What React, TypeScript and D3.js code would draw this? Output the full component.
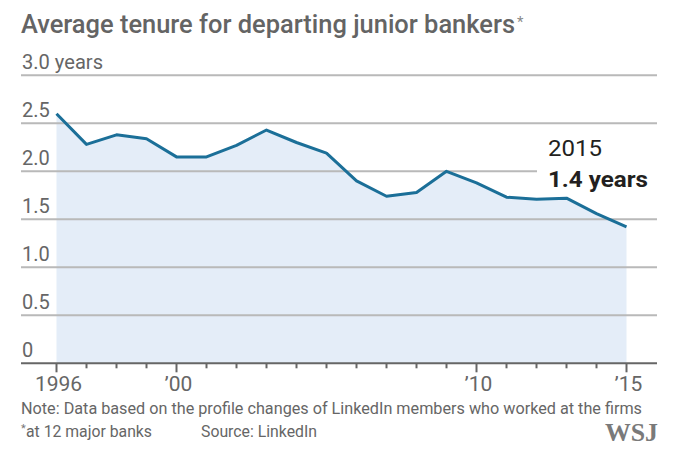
import React from "react";
import * as d3 from "d3";

const years: number[] = [1996, 1997, 1998, 1999, 2000, 2001, 2002, 2003, 2004, 2005, 2006, 2007, 2008, 2009, 2010, 2011, 2012, 2013, 2014, 2015];
const tenure: number[] = [2.60, 2.28, 2.38, 2.34, 2.15, 2.15, 2.27, 2.43, 2.30, 2.19, 1.90, 1.74, 1.78, 2.00, 1.88, 1.73, 1.71, 1.72, 1.56, 1.42];
const yTicks: number[] = [0, 0.5, 1.0, 1.5, 2.0, 2.5, 3.0];
const yTickLabels: string[] = ["0", "0.5", "1.0", "1.5", "2.0", "2.5", "3.0 years"];
const xLabelYears: number[] = [1996, 2000, 2010, 2015];
const xLabels: string[] = ["1996", "\u201900", "\u201910", "\u201915"];

const FONT = "Roboto, 'Open Sans', sans-serif";

export default function App() {
  const W = 682, H = 457;
  const x = d3.scaleLinear().domain([1996, 2015]).range([56.5, 626.5]);
  const y = d3.scaleLinear().domain([0, 3]).range([363.3, 75.3]);
  const gridLeft = 21, gridRight = 657;

  const data = years.map((yr, i) => ({ yr, v: tenure[i] }));
  const line = d3.line<{ yr: number; v: number }>().x(d => x(d.yr)).y(d => y(d.v));
  const area = d3.area<{ yr: number; v: number }>().x(d => x(d.yr)).y0(y(0)).y1(d => y(d.v));

  const allTicks = d3.range(1996, 2016);

  return (
    <div style={{ position: "fixed", left: 0, top: 0 }}>
      <svg width={W} height={H} style={{ display: "block", background: "#fff" }} fontFamily={FONT}>
        <rect x={0} y={0} width={W} height={H} fill="#fff" />
        {/* title */}
        <text x={21} y={33} fontSize={25} fontWeight={500} fill="#646464" textLength={494} lengthAdjust="spacingAndGlyphs">
          Average tenure for departing junior bankers
        </text>
        <text x={517} y={27} fontSize={15} fill="#8a8a8a">*</text>

        {/* area */}
        <path d={area(data) || ""} fill="#e4edf8" />

        {/* gridlines */}
        {yTicks.filter(t => t > 0).map(t => (
          <line key={t} x1={gridLeft} x2={gridRight} y1={y(t)} y2={y(t)} stroke="#b9b9b9" strokeWidth={2} />
        ))}

        {/* y labels */}
        {yTicks.map((t, i) => (
          <text key={t} x={22} y={y(t) - 6} fontSize={20} fill="#666"
            {...(i === yTicks.length - 1 ? { textLength: 81, lengthAdjust: "spacingAndGlyphs" } : {})}>
            {yTickLabels[i]}
          </text>
        ))}

        {/* annotation background */}
        <rect x={537} y={132} width={122} height={58} fill="#fff" />

        {/* line */}
        <path d={line(data) || ""} fill="none" stroke="#1b6f98" strokeWidth={3} strokeLinejoin="round" />

        {/* annotation */}
        <text x={548} y={156} fontSize={22} fill="#231f20" textLength={54} lengthAdjust="spacingAndGlyphs">2015</text>
        <text x={548} y={187} fontSize={22} fontWeight={700} fill="#231f20" textLength={100} lengthAdjust="spacingAndGlyphs">1.4 years</text>

        {/* x axis */}
        <line x1={gridLeft} x2={gridRight} y1={y(0)} y2={y(0)} stroke="#666" strokeWidth={2} />
        {allTicks.map(t => (
          <line key={t} x1={x(t)} x2={x(t)} y1={y(0)} y2={y(0) + (xLabelYears.includes(t) ? 9 : 5)} stroke="#666" strokeWidth={2} />
        ))}
        {xLabelYears.map((t, i) => (
          <text key={t} x={x(t) + 2} y={391} fontSize={21} fill="#666" textAnchor="middle">{xLabels[i]}</text>
        ))}

        {/* notes */}
        <text x={21} y={414} fontSize={17} fill="#666" textLength={621} lengthAdjust="spacingAndGlyphs">
          Note: Data based on the profile changes of LinkedIn members who worked at the firms
        </text>
        <text x={21} y={432} fontSize={11} fill="#777">*</text>
        <text x={26} y={437} fontSize={17} fill="#666" textLength={126} lengthAdjust="spacingAndGlyphs">at 12 major banks</text>
        <text x={201} y={437} fontSize={17} fill="#666" textLength={116} lengthAdjust="spacingAndGlyphs">Source: LinkedIn</text>

        {/* WSJ */}
        <text x={605} y={441} fontSize={25} fontWeight={700} fontFamily="'Liberation Serif', 'DejaVu Serif', serif" fill="#7a7a7a" textLength={53} lengthAdjust="spacingAndGlyphs">WSJ</text>
      </svg>
    </div>
  );
}
